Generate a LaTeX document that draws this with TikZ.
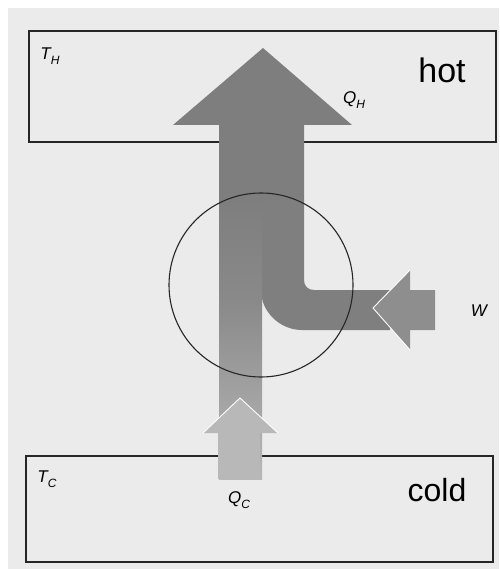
\documentclass[tikz,border=0pt]{standalone}
\usepackage{fontspec}
\setmainfont{Liberation Sans}
\definecolor{bg}{HTML}{EBEBEB}
\definecolor{qhgray}{HTML}{7E7E7E}
\definecolor{wgray}{HTML}{8E8E8E}
\definecolor{qcgray}{HTML}{B8B8B8}
\newcommand{\sublbl}[2]{{\itshape #1\raisebox{-0.3em}{\fontsize{12}{12}\selectfont #2}}}
\tikzset{
  reservoir/.style={draw=black!85, line width=1.1pt, inner sep=0pt, minimum width=467pt},
  lbl/.style={inner sep=0pt, font=\fontsize{17}{17}\selectfont},
  big/.style={inner sep=0pt, anchor=base},
  outline/.style={draw=white, line width=0.9pt, line join=miter},
}
\begin{document}
\begin{tikzpicture}[x=1pt,y=-1pt]
\useasboundingbox (0,0) rectangle (499,569);
\fill[bg] (8,8) rectangle (499,569);
% reservoirs
\node[reservoir, minimum height=111pt] (hotres) at (262.5,86.5) {};
\node[reservoir, minimum height=106pt] (coldres) at (259.5,509) {};
% left column (Q_C flow) shaded
\shade[top color=qhgray, bottom color=qcgray, middle color=qhgray!80!qcgray]
  (219,125) rectangle (262,479);
% bend band (W flow)
\fill[qhgray!92!wgray] (261,125) -- (261,290) .. controls (261,312) and (280,330) .. (302,330)
  -- (390,330) -- (390,290) -- (314,290) .. controls (308,290) and (304,286) .. (304,280)
  -- (304,125) -- cycle;
% Q_H arrow head
\fill[qhgray] (173,125) -- (263,48) -- (352,125) -- cycle;
\fill[qhgray] (219,124) rectangle (304,200);
\shade[top color=qhgray, bottom color=qhgray!80!qcgray] (219,199) rectangle (262,300);
% Q_C arrow
\fill[qcgray] (218,479) -- (218,433) -- (203,433) -- (240,398) -- (278,433) -- (260,433) -- (260,479) -- cycle;
\draw[outline] (203,433) -- (240,398) -- (278,433);
% W arrow
\fill[wgray] (435,290) -- (410,290) -- (410,270) -- (373,308) -- (410,350) -- (410,330) -- (435,330) -- cycle;
\draw[outline] (410,270) -- (373,308) -- (410,350);
% engine circle
\node[draw=black!85, line width=1.1pt, circle, minimum size=184pt, inner sep=0pt] (engine) at (261,285) {};
% labels
\node[lbl] (th) at (50,56) {\sublbl{T}{H}};
\node[lbl] (qh) at (354,100) {\sublbl{Q}{H}};
\node[lbl] (w) at (479,311) {\itshape W};
\node[lbl] (tc) at (47,479) {\sublbl{T}{C}};
\node[lbl] (qc) at (239,500) {\sublbl{Q}{C}};
\node[big, font=\fontsize{34}{34}\selectfont] (hot) at (442,83) {hot};
\node[big, font=\fontsize{32}{32}\selectfont] (cold) at (437,501) {cold};
\end{tikzpicture}
\end{document}
